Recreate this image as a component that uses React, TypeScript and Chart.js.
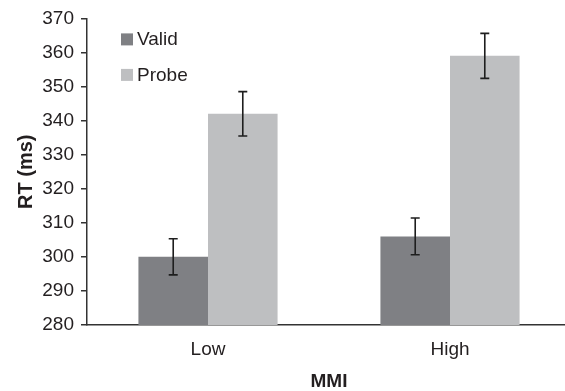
import React, { useEffect, useRef } from "react";
import { Chart, registerables } from "chart.js";

Chart.register(...registerables);

const categories = ["Low", "High"];
const seriesNames = ["Valid", "Probe"];
const validValues = [300, 306];
const probeValues = [342, 359];
const validErrors = [5.3, 5.4];
const probeErrors = [6.5, 6.6];
const yTicks = [280, 290, 300, 310, 320, 330, 340, 350, 360, 370];

const FONT = "'Liberation Sans', Arial, Helvetica, sans-serif";
const TEXT = "#231f20";
const VALID_COLOR = "#7f8084";
const PROBE_COLOR = "#bebfc1";

const errorBarPlugin = {
  id: "errorBars",
  afterDatasetsDraw(chart: any) {
    const ctx = chart.ctx;
    const yScale = chart.scales.y;
    const errs = [validErrors, probeErrors];
    ctx.save();
    ctx.strokeStyle = "#1e1e1e";
    ctx.lineWidth = 1.6;
    chart.data.datasets.forEach((ds: any, di: number) => {
      const meta = chart.getDatasetMeta(di);
      meta.data.forEach((bar: any, i: number) => {
        const v = ds.data[i];
        const e = errs[di][i];
        const yt = yScale.getPixelForValue(v + e);
        const yb = yScale.getPixelForValue(v - e);
        const x = bar.x;
        ctx.beginPath();
        ctx.moveTo(x, yt);
        ctx.lineTo(x, yb);
        ctx.moveTo(x - 4.5, yt);
        ctx.lineTo(x + 4.5, yt);
        ctx.moveTo(x - 4.5, yb);
        ctx.lineTo(x + 4.5, yb);
        ctx.stroke();
      });
    });
    ctx.restore();
  },
};

const legendPlugin = {
  id: "insideLegend",
  afterDraw(chart: any) {
    const ctx = chart.ctx;
    const { left, top } = chart.chartArea;
    const colors = [VALID_COLOR, PROBE_COLOR];
    ctx.save();
    ctx.font = `19px ${FONT}`;
    ctx.textBaseline = "middle";
    ctx.textAlign = "left";
    seriesNames.forEach((name, i) => {
      const y = top + 15 + i * 35.5;
      ctx.fillStyle = colors[i];
      ctx.fillRect(left + 34, y, 12, 12);
      ctx.fillStyle = TEXT;
      ctx.fillText(name, left + 50, y + 6.5);
    });
    ctx.restore();
  },
};

export default function App() {
  const ref = useRef<HTMLCanvasElement | null>(null);

  useEffect(() => {
    if (!ref.current) return;
    const chart = new Chart(ref.current, {
      type: "bar",
      data: {
        labels: categories,
        datasets: [
          {
            label: seriesNames[0],
            data: validValues,
            backgroundColor: VALID_COLOR,
            categoryPercentage: 0.575,
            barPercentage: 1,
          },
          {
            label: seriesNames[1],
            data: probeValues,
            backgroundColor: PROBE_COLOR,
            categoryPercentage: 0.575,
            barPercentage: 1,
          },
        ],
      },
      options: {
        responsive: false,
        animation: false,
        layout: { padding: { top: 18, left: 0, right: 4, bottom: 0 } },
        plugins: {
          legend: { display: false },
          tooltip: { enabled: false },
        },
        scales: {
          x: {
            grid: {
              display: true,
              drawOnChartArea: false,
              drawTicks: false,
              color: "rgba(0,0,0,0)",
            },
            border: { display: true, color: "#333", width: 1.5 },
            ticks: {
              color: TEXT,
              font: { family: FONT, size: 19 },
              padding: 13,
            },
            title: {
              display: true,
              text: "MMI",
              color: TEXT,
              font: { family: FONT, size: 19, weight: "bold" },
              padding: { top: 0, bottom: -2 },
            },
            afterFit(scale: any) {
              scale.height = 66;
            },
          },
          y: {
            min: 280,
            max: 370,
            afterBuildTicks(scale: any) {
              scale.ticks = yTicks.map((v) => ({ value: v }));
            },
            grid: {
              display: true,
              drawOnChartArea: false,
              drawTicks: true,
              tickLength: 6,
              color: "#333",
              lineWidth: 1.5,
            },
            border: { display: true, color: "#333", width: 1.5 },
            ticks: {
              color: TEXT,
              font: { family: FONT, size: 19 },
              padding: 7,
            },
            title: {
              display: true,
              text: "RT (ms)",
              color: TEXT,
              font: { family: FONT, size: 20, weight: "bold" },
              padding: { top: 14, bottom: 0 },
            },
            afterFit(scale: any) {
              scale.width = 87;
            },
          },
        },
      },
      plugins: [errorBarPlugin, legendPlugin],
    });
    return () => chart.destroy();
  }, []);

  return (
    <div
      style={{
        position: "absolute",
        left: 0,
        top: 0,
        width: 565,
        height: 391,
        overflow: "hidden",
        background: "#fff",
      }}
    >
      <canvas ref={ref} width={575} height={391} style={{ display: "block" }} />
    </div>
  );
}
